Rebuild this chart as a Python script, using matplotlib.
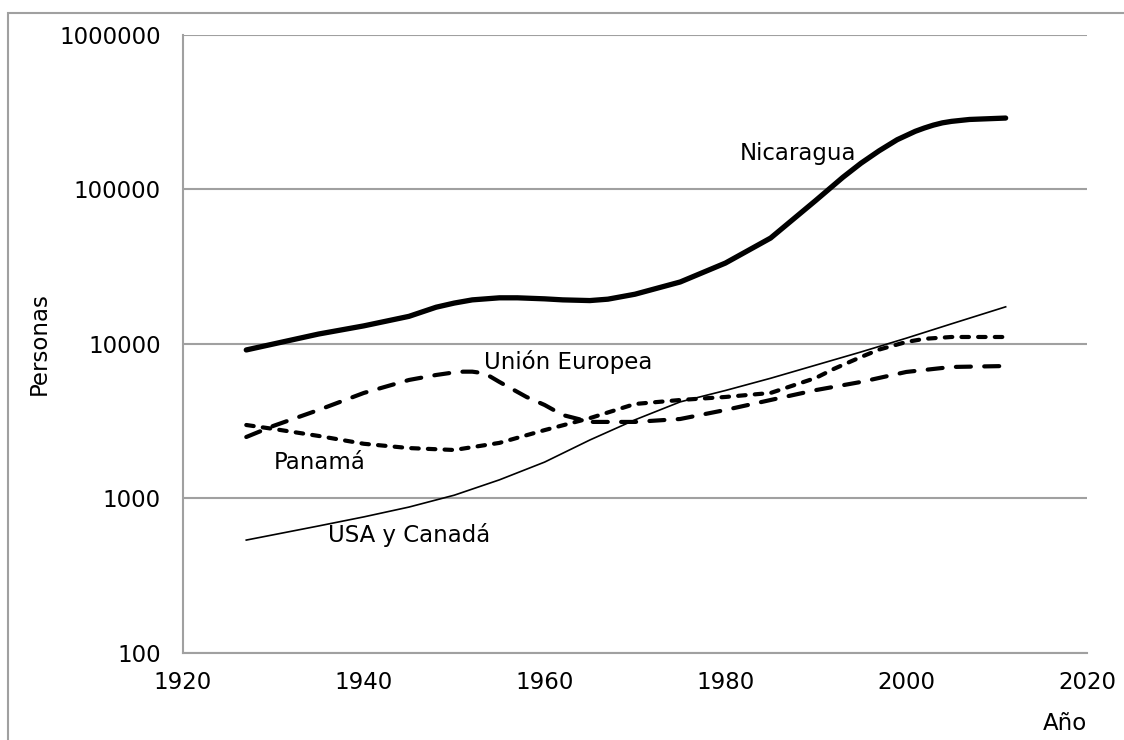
import matplotlib.pyplot as plt
from matplotlib.patches import Rectangle

# valores (personas por año)
anios_nic = [1927, 1935, 1940, 1945, 1948, 1950, 1952, 1955, 1957, 1960, 1962, 1965, 1967, 1970, 1975,
             1980, 1985, 1990, 1993, 1995, 1997, 1999, 2001, 2002, 2003, 2004, 2005, 2007, 2011]
nicaragua = [9150, 11600, 13100, 15100, 17300, 18400, 19300, 19900, 19900, 19600, 19300, 19100, 19500, 21000, 25200,
             33400, 48500, 85000, 120000, 148000, 178000, 210000, 238000, 250000, 261000, 270000, 276000, 284000, 290000]

anios_usa = [1927, 1935, 1940, 1945, 1950, 1955, 1960, 1965, 1970, 1975, 1980, 1985, 1990, 1995, 2000, 2005, 2011]
usa_canada = [538, 664, 760, 880, 1050, 1320, 1720, 2390, 3230, 4220, 5000, 6000, 7300, 8880, 10900, 13500, 17400]

anios_ue = [1927, 1930, 1935, 1940, 1945, 1948, 1950, 1951, 1952, 1953, 1954, 1955, 1958, 1960, 1962, 1965,
            1970, 1975, 1980, 1985, 1990, 1995, 2000, 2005, 2011]
union_europea = [2500, 2950, 3740, 4820, 5850, 6300, 6550, 6620, 6620, 6500, 6150, 5680, 4540, 4030, 3470, 3130,
                 3130, 3270, 3740, 4340, 5030, 5680, 6590, 7100, 7200]

anios_pan = [1927, 1930, 1935, 1940, 1945, 1950, 1955, 1960, 1965, 1970, 1975, 1980, 1985, 1990, 1992,
             1995, 1997, 2000, 2002, 2005, 2011]
panama = [2990, 2820, 2540, 2260, 2120, 2060, 2290, 2770, 3310, 4090, 4340, 4540, 4820, 6030, 6900,
          8240, 9200, 10300, 10800, 11100, 11100]

fig = plt.figure(figsize=(11.24, 7.40), dpi=100)
ax = fig.add_axes([0.1628, 0.1176, 0.8043, 0.8351])

gris = '#a0a0a0'
fig.patches.append(Rectangle((8/1124, -0.1), 1.2, 1 - 13/740 + 0.1, transform=fig.transFigure,
                             fill=False, edgecolor=gris, linewidth=1.5))

ax.plot(anios_nic, nicaragua, color='black', lw=3.8, solid_capstyle='round', solid_joinstyle='round')
ax.plot(anios_usa, usa_canada, color='black', lw=1.2)
ax.plot(anios_ue, union_europea, color='black', lw=3.0, dashes=(3.6, 3.2), dash_capstyle='round')
ax.plot(anios_pan, panama, color='black', lw=3.0, dashes=(1.8, 2.2), dash_capstyle='round')

fs = 16.5
ax.set_yscale('log')
ax.set_ylim(100, 1000000)
ax.set_xlim(1920, 2020)
ax.set_yticks([100, 1000, 10000, 100000, 1000000])
ax.set_yticklabels(['100', '1000', '10000', '100000', '1000000'])
ax.set_xticks(range(1920, 2021, 20))
ax.minorticks_off()
ax.tick_params(length=0, labelsize=fs)
ax.tick_params(axis='y', pad=16)
ax.tick_params(axis='x', pad=13)
ax.grid(axis='y', color=gris, lw=1.5)
ax.set_axisbelow(True)
for s in ['top', 'right']:
    ax.spines[s].set_visible(False)
for s in ['left', 'bottom']:
    ax.spines[s].set_color(gris)
    ax.spines[s].set_linewidth(1.5)

ax.set_ylabel('Personas', fontsize=fs, labelpad=6)
ax.text(1.0, -0.095, 'Año', transform=ax.transAxes, fontsize=fs, ha='right', va='top')

ax.text(1981.6, 172000, 'Nicaragua', fontsize=fs, va='center')
ax.text(1953.3, 7640, 'Unión Europea', fontsize=fs, va='center')
ax.text(1930, 1700, 'Panamá', fontsize=fs, va='center')
ax.text(1936, 580, 'USA y Canadá', fontsize=fs, va='center')

plt.savefig('out.png', dpi=100)
